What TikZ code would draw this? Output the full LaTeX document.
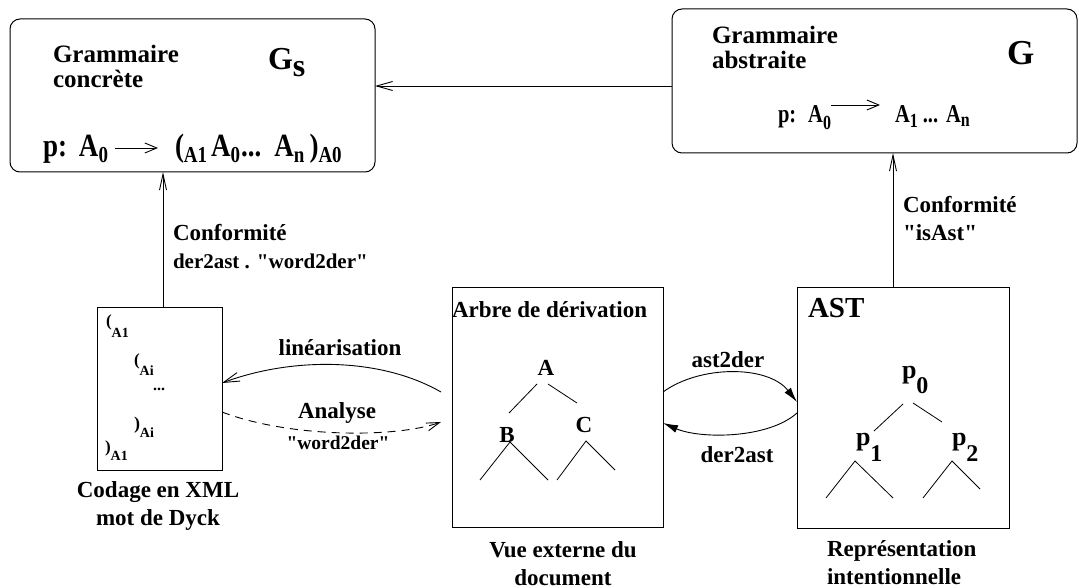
\documentclass[tikz,border=0pt]{standalone}
\usepackage{fontspec}
\usepackage{graphicx}
\setmainfont{Liberation Serif}[Ligatures=TeXOff]
\usetikzlibrary{arrows.meta,calc}
% lowered subscript: #1 drop (pt), #2 font size, #3 text
\newcommand\dropsub[3]{\raisebox{-#1pt}{\fontsize{#2}{#2}\selectfont #3}}

\begin{document}
\begin{tikzpicture}[x=1pt,y=-1pt,
  every node/.style={inner sep=0pt, outer sep=0pt},
  txt/.style={font=\fontsize{23}{28}\selectfont\bfseries},
  ttl/.style={font=\fontsize{25}{25}\selectfont\bfseries},
  gbox/.style={draw, line width=1pt, rounded corners=10pt},
  sbox/.style={draw, line width=1pt},
  conn/.style={line width=0.9pt},
  barb/.style={conn, -{Straight Barb[length=16pt,width=9pt]}},
  vbarb/.style={conn, -{Straight Barb[length=16pt,width=7pt]}},
  fbarb/.style={conn, -{Straight Barb[length=12pt,width=10pt]}},
  filltip/.style={conn, -{Latex[length=15pt,width=8pt]}},
  treeline/.style={line width=0.8pt}
]
\useasboundingbox (0,0) rectangle (1079,588);

% ---- boxes ----
\node[gbox, minimum width=365pt, minimum height=153pt] (gs) at (192.5,95.5) {};
\node[gbox, minimum width=405pt, minimum height=144pt] (g) at (874.5,81) {};
\node[sbox, minimum width=125pt, minimum height=163pt] (xml) at (159.5,388.5) {};
\node[sbox, minimum width=211pt, minimum height=240pt] (der) at (557.5,407) {};
\node[sbox, minimum width=212pt, minimum height=241pt] (ast) at (903,407.5) {};

% ---- concrete grammar ----
\node[ttl, align=left, anchor=west] (gsT) at (53,66) {Grammaire\\concrète};
\node[anchor=base west, font=\fontsize{32}{32}\selectfont\bfseries] (gsG) at (268,70) {G\raisebox{-7pt}{s}};
\node[anchor=base west, font=\fontsize{27}{27}\selectfont\bfseries] (lp0) at (43,157)
  {\scalebox{1}[1.2]{p:\hspace{12pt}A\dropsub{5}{19}{0}}};
\node[anchor=base west, font=\fontsize{27}{27}\selectfont\bfseries] (lp1) at (175,157)
  {\scalebox{1}[1.2]{(\dropsub{5}{19}{A1}\hspace{4pt}A\dropsub{5}{19}{0}\hspace{1pt}...\hspace{13pt}A\dropsub{5}{19}{n}\hspace{5pt})\dropsub{5}{19}{A0}}};
\draw[fbarb] ($(lp0.base east)+(7,-9)$) -- ($(lp1.base west)+(-17,-9)$);

% ---- abstract grammar ----
\node[ttl, align=left, anchor=west] (gT) at (712,47) {Grammaire\\abstraite};
\node[anchor=base west, font=\fontsize{35}{35}\selectfont\bfseries] (gG) at (1007,65) {G};
\node[anchor=base west, font=\fontsize{20.5}{20.5}\selectfont\bfseries] (rp0) at (778,123)
  {\scalebox{1}[1.25]{p:\hspace{12pt}A\dropsub{5}{16}{0}}};
\node[anchor=base west, font=\fontsize{20.5}{20.5}\selectfont\bfseries] (rp1) at (895,123)
  {\scalebox{1}[1.25]{A\dropsub{4}{16}{1}\hspace{5pt}...\hspace{8pt}A\dropsub{3}{16}{n}}};
\draw[fbarb] ($(rp0.base east)+(0,-18)$) -- ($(rp1.base west)+(-15,-18)$);

% ---- XML coding (Dyck word) ----
\node[anchor=base west, font=\fontsize{17}{17}\selectfont\bfseries] (x1) at (106,326) {(\dropsub{11}{14}{A1}};
\node[anchor=base west, font=\fontsize{17}{17}\selectfont\bfseries] (x2) at (134,365) {(\dropsub{10}{14}{Ai}};
\node[font=\fontsize{16}{16}\selectfont\bfseries] (x3) at (159,389) {...};
\node[anchor=base west, font=\fontsize{18}{18}\selectfont\bfseries] (x4) at (134,429) {)\dropsub{8}{14}{Ai}};
\node[anchor=base west, font=\fontsize{17}{17}\selectfont\bfseries] (x5) at (105,452) {)\dropsub{8}{14}{A1}};
\node[txt, align=center] (xmlL) at (158,506) {Codage en XML\\mot de Dyck};

% ---- derivation tree ----
\node[txt, anchor=west] (derT) at (452,310) {Arbre de dérivation};
\node[txt, anchor=base] (tA) at (546,375) {A};
\node[txt, anchor=base] (tB) at (507,442) {B};
\node[txt, anchor=base] (tC) at (584,432) {C};
\draw[treeline] (537,384) -- (509,413);
\draw[treeline] (548,384) -- (577,403);
\draw[treeline] (480,480) -- (510,442) -- (548,480);
\draw[treeline] (557,480) -- (586,441) -- (615,470);
\node[txt, align=center] (derL) at (563,564) {Vue externe du\\document};

% ---- AST ----
\node[anchor=west, font=\fontsize{29}{29}\selectfont\bfseries] (astT) at (808,308) {AST};
\node[anchor=base west, font=\fontsize{26}{26}\selectfont\bfseries] (p0) at (902,378) {p\dropsub{15}{24}{0}};
\node[anchor=base west, font=\fontsize{26}{26}\selectfont\bfseries] (p1) at (856,445) {p\dropsub{16}{24}{1}};
\node[anchor=base west, font=\fontsize{26}{26}\selectfont\bfseries] (p2) at (952,445) {p\dropsub{16}{24}{2}};
\draw[treeline] (903,404) -- (874,431);
\draw[treeline] (913,403) -- (942,422);
\draw[treeline] (826,498) -- (855,461) -- (893,498);
\draw[treeline] (923,498) -- (952,461) -- (980,489);
\node[txt, align=left, anchor=west] (astL) at (827,563) {Représentation\\intentionnelle};

% ---- conformity links ----
\path ([xshift=3.5pt]xml.north) coordinate (cL);
\draw[vbarb] (cL) -- (cL |- gs.south);
\node[txt, align=left, anchor=west] (confL) at (173,247)
  {Conformité\\{\fontsize{21}{21}\selectfont der2ast . "word2der"}};

\path ([xshift=-10pt]ast.north) coordinate (cR);
\draw[vbarb] (cR) -- (cR |- g.south);
\node[txt, align=left, anchor=west] (confR) at (903,219) {Conformité\\"isAst"};

% abstract -> concrete
\path ([yshift=-5pt]g.west) coordinate (hA);
\draw[barb] (hA) -- (hA -| gs.east);

% ---- linearisation / parsing ----
\draw[barb] ([shift={(-11pt,15pt)}]der.west) .. controls (380,357) and (292,357) .. ([yshift=5.5pt]xml.east);
\node[txt] (linL) at (340,348) {linéarisation};
\draw[conn, dash pattern=on 8pt off 6pt, -{Straight Barb[length=13pt,width=8pt]}]
  ([yshift=-23.5pt]xml.east) .. controls (290,438) and (396,438) .. ([shift={(-11pt,-15pt)}]der.west);
\node[txt] (anaL) at (337,413) {Analyse};
\node[font=\fontsize{19.5}{20}\selectfont\bfseries] (anaL2) at (338,443) {"word2der"};

% ---- ast2der / der2ast ----
\draw[filltip] ([yshift=15pt]der.east) .. controls (700,365) and (768,365) .. ([yshift=5.5pt]ast.west);
\node[txt] (a2d) at (728,360) {ast2der};
\draw[filltip] ([yshift=-5.5pt]ast.west) .. controls (768,439) and (700,439) .. ([yshift=-16pt]der.east);
\node[txt] (d2a) at (737,455) {der2ast};
\end{tikzpicture}
\end{document}
